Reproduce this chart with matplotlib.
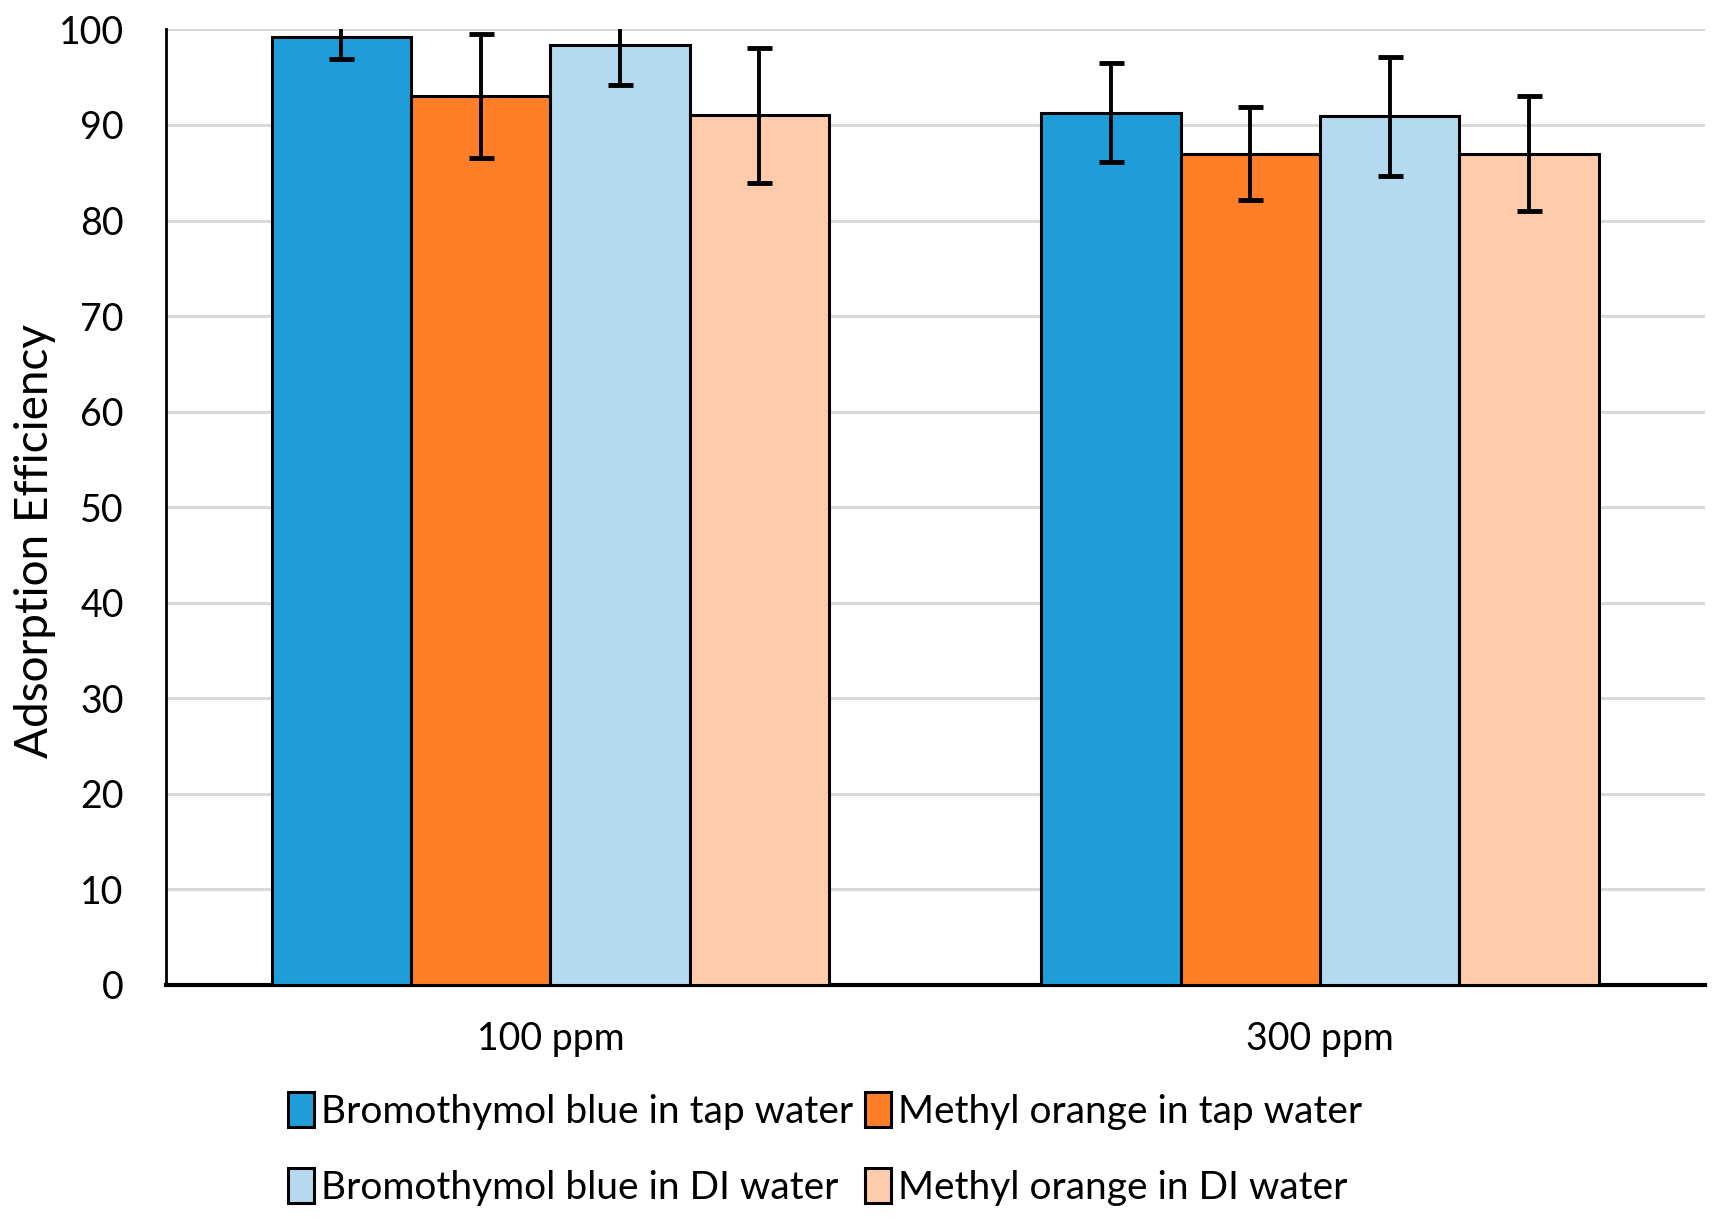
import matplotlib
matplotlib.use("Agg")
import matplotlib.pyplot as plt
import numpy as np

plt.rcParams['font.family'] = ['Lato', 'DejaVu Sans']

categories = ["100 ppm", "300 ppm"]
series_names = ["Bromothymol blue in tap water", "Methyl orange in tap water",
                "Bromothymol blue in DI water", "Methyl orange in DI water"]
bb_tap = [99.2, 91.3]
bb_tap_err = [2.3, 5.2]
mo_tap = [93.0, 87.0]
mo_tap_err = [6.5, 4.9]
bb_di = [98.4, 90.9]
bb_di_err = [4.2, 6.2]
mo_di = [91.0, 87.0]
mo_di_err = [7.1, 6.0]
yticks = [0, 10, 20, 30, 40, 50, 60, 70, 80, 90, 100]

colors = ["#1e9dd8", "#fe7f27", "#b5d9ef", "#fecbab"]
values = [bb_tap, mo_tap, bb_di, mo_di]
errs = [bb_tap_err, mo_tap_err, bb_di_err, mo_di_err]

fig = plt.figure(figsize=(17.24, 12.25), dpi=100)
ax = fig.add_axes([0.096, 0.196, 0.893, 0.780])

x = np.arange(len(categories))
w = 0.181
handles = []
for i, (vals, er, c, name) in enumerate(zip(values, errs, colors, series_names)):
    pos = x + (i - 1.5) * w
    b = ax.bar(pos, vals, width=w, color=c, edgecolor='black', linewidth=2.2,
               label=name, zorder=3)
    ax.errorbar(pos, vals, yerr=er, fmt='none', ecolor='black', elinewidth=2.8,
                capsize=9, capthick=3.5, zorder=4)
    handles.append(b)

ax.set_xlim(-0.5, 1.5)
ax.set_ylim(0, 100)
ax.set_yticks(yticks)
ax.set_xticks(x)
ax.set_xticklabels(categories, fontsize=27)
ax.tick_params(axis='y', length=0, pad=30, labelsize=27)
ax.tick_params(axis='x', length=0, pad=26)
ax.yaxis.grid(True, color='#d9d9d9', linewidth=2.2, zorder=0)
ax.set_axisbelow(True)
for s in ['top', 'right']:
    ax.spines[s].set_visible(False)
ax.spines['left'].set_linewidth(2.0)
ax.spines['bottom'].set_linewidth(3.0)
ax.set_ylabel("Adsorption Efficiency", fontsize=33)
ax.yaxis.set_label_coords(-0.071, 0.465)

order = [handles[0], handles[2], handles[1], handles[3]]
labels = [series_names[0], series_names[2], series_names[1], series_names[3]]
fig.legend(order, labels, loc='center left', bbox_to_anchor=(0.147, 0.062),
           ncol=2, frameon=False, fontsize=28, handlelength=0.65, handleheight=1.0,
           handletextpad=0.2, columnspacing=0.3, labelspacing=1.0)

fig.savefig("out.png", dpi=100)
